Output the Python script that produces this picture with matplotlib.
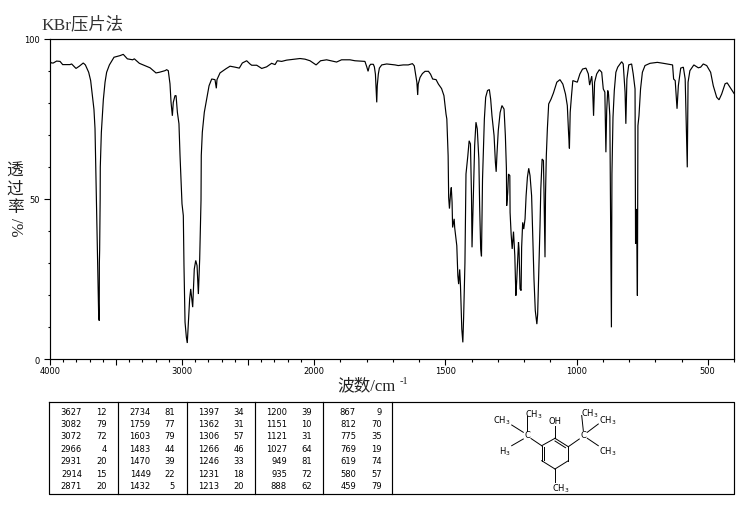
import numpy as np
import matplotlib
matplotlib.use("Agg")
import matplotlib.pyplot as plt
from matplotlib.ticker import FixedLocator, FixedFormatter

wavenumber = [4000,3987,3975,3950,3924,3904,3849,3836,3803,3778,3748,3732,3707,3692,3679,3667,3659,3654,3647,3639,3631,3627,3626,3624,3620,3619,3611,3596,3583,3571,3550,3515,3470,3445,3414,3374,3361,3323,
3242,3197,3172,3129,3116,3104,3091,3083,3073,3066,3053,3045,3035,3023,3015,3005,3000,2990,2985,2977,2967,2960,2952,2942,2934,2927,2919,2912,2907,2896,2886,2876,2866,2856,2854,2846,2831,2813,2795,2775,2750,2740,2735,2712,2667,2636,2598,2566,2543,2510,2485,
2472,2434,2396,2359,2321,2295,2278,2245,2207,2106,2068,2030,1992,1975,1952,1914,1895,1863,1844,1806,1799,1794,1789,1784,1774,1770,1766,1764,1761,1759,1755,1751,1742,1723,1691,1679,1660,1641,1625,1618,1613,1608,1605,1603,1596,1587,1577,1564,1556,1548,1535,1526,1514,1505,1497,
1494,1489,1487,1484,1480,1477,1474,1472,1466,1464,1456,1452,1449,1445,1442,1437,1433,1430,1425,1421,1414,1409,1404,1400,1398,1393,1388,1383,1378,1372,1369,1365,1362,1358,1351,1346,1339,1332,1327,1322,1314,1309,1306,1303,1298,1291,1284,1276,1271,1267,1266,1262,1259,1254,1253,1249,1245,1240,1235,1231,1228,1221,1219,1215,1211,1209,1205,1201,1196,1192,1187,1182,1177,1171,1167,1162,1157,1151,1148,1143,1139,1136,1131,1126,1124,1120,1118,1115,1111,1106,1097,1088,1075,1063,1052,1042,1035,1030,1027,1024,1019,1014,
997,987,977,964,955,950,946,942,939,935,931,923,913,904,898,892,888,885,881,878,873,870,867,865,861,856,850,843,828,822,815,812,808,801,790,784,777,775,771,768,766,762,756,749,739,720,692,669,634,630,624,617,612,603,593,586,581,578,575,568,553,536,527,517,504,489,479,466,457,447,434,426,415,403,400]

transmittance = [92.9,92.5,92.5,93.1,93.0,92.0,92.0,92.2,90.8,91.5,92.5,91.9,89.6,87,82.3,78,72,61.5,48,30.7,12.9,12,30,33.9,50,60,70.8,81,86.5,89.6,91.9,94.3,94.8,95.2,93.8,93.5,93.8,92.4,
91,89.4,89.6,90.1,90.4,90.1,86,80.2,76,80.2,82.3,82.3,77.1,73.5,63.6,53.2,48.5,44.8,29.2,11.5,6.8,5,11,18.8,21.9,19.3,16.2,22.9,28.1,30.8,29.2,20.3,31.3,49.5,63.6,70.9,77.1,81.3,85.4,87.5,87.3,84.6,87.3,89.4,90.7,91.5,91.2,90.9,92.5,93.2,92.2,
91.8,91.8,90.8,91.3,92.4,92,93.2,93,93.4,93.9,93.7,93.2,91.9,93.2,93.5,92.8,93.5,93.5,93.2,93,91.3,89.9,91.6,92.1,92.1,91.3,89,85.4,80.2,85.4,89,90.9,91.9,92.2,91.9,91.7,91.9,91.9,92.3,91.6,89,86.4,82.5,85.9,88,89.2,89.9,89.9,89,87.5,87.3,85.9,84.5,82.3,76.5,
75,63.5,50.5,47,51.6,53.6,49,41.1,43.8,41,35.4,26,23.4,28,22.9,9.4,5.2,13,30,57.8,63.5,68.2,67.2,51,34.9,51,66.7,74,71.9,62.5,47.9,34.4,32.1,56.2,75,81.8,83.9,84.2,81.2,76,69.8,61.5,58.5,64,71.4,77,79.2,78.1,69.8,59.4,47.9,52,57.8,57.3,45.8,39,34.4,39.8,32.3,19.8,24,36.5,34.4,21.9,21.4,34.9,42.7,40.6,43.8,51,56.8,59.6,57.3,51,39.6,25,15.1,10.9,14,29.2,41.7,53.1,62.5,62,53.1,31.8,51.6,63.5,71.9,79.7,81.2,83.1,86.5,87.3,85.9,82.8,79.2,70.3,65.8,77.1,82.3,87,
86.5,89.1,90.6,90.9,89.1,85.6,87,88.4,85.4,76,86.5,89.1,90.4,89.6,84.4,83.4,64.6,77.6,83.9,82.8,76,43.3,9.9,57.8,75.5,83.9,89.6,91.2,92.9,92.2,83.4,73.5,87.5,91.9,92.2,89.1,84.4,36,46.9,19.8,72.9,76,84.4,89.6,91.7,92.4,92.7,92.4,91.9,87.5,87,78.2,85.4,90.9,91.2,87.5,69.3,59.9,86.5,90.1,91.9,91,91.2,92.2,91.7,89.6,85.4,81.8,81,82.8,86,86.3,84.9,83.4,83]

x_major = [4000,3500,3000,2500,2000,1500,1000,500]
x_major_labels = ["4000","","3000","","2000","1500","1000","500"]
x_minor = list(range(400,4000,100))
y_major = [0,50,100]
y_minor = list(range(0,101,10))

peak_wn = [[3627,3082,3072,2966,2931,2914,2871],
           [2734,1759,1603,1483,1470,1449,1432],
           [1397,1362,1306,1266,1246,1231,1213],
           [1200,1151,1121,1027,949,935,888],
           [867,812,775,769,619,580,459]]
peak_t = [[12,79,72,4,20,15,20],
          [81,77,79,44,39,22,5],
          [34,31,57,46,33,18,20],
          [39,10,31,64,81,72,62],
          [9,70,35,19,74,57,79]]

W, H = 737, 510
fig = plt.figure(figsize=(W/100, H/100), dpi=100, facecolor="white")
ax = fig.add_axes([50/W, 1-360/H, 684/W, 320/H])

def fwd(v):
    return np.interp(v, [400,2000,4000], [0,420,684])
def inv(v):
    return np.interp(v, [0,420,684], [400,2000,4000])
ax.set_xscale("function", functions=(fwd, inv))
ax.plot(wavenumber, transmittance, color="black", lw=0.85, solid_joinstyle="miter")
ax.set_xlim(4000, 400)
ax.set_ylim(0, 100)
ax.xaxis.set_major_locator(FixedLocator(x_major))
ax.xaxis.set_major_formatter(FixedFormatter(x_major_labels))
ax.xaxis.set_minor_locator(FixedLocator(x_minor))
ax.yaxis.set_major_locator(FixedLocator(y_major))
ax.yaxis.set_minor_locator(FixedLocator(y_minor))
ax.tick_params(which="major", length=4.5, width=0.8, labelsize=6, pad=0.5)
ax.tick_params(which="minor", length=1.8, width=0.8)
ax.tick_params(axis="y", which="major", pad=3)
for s in ax.spines.values():
    s.set_linewidth(0.85)

ov = fig.add_axes([0, 0, 1, 1], zorder=5)
ov.set_xlim(0, W); ov.set_ylim(H, 0); ov.axis("off"); ov.patch.set_alpha(0)
LAB = ["Liberation Serif", "Noto Sans CJK SC"]
ov.text(41, 25, "KBr压片法", family=LAB, fontsize=12.5, color="#333333", va="center", ha="left")
for cy, ch in zip([172, 190, 208], "透过率"):
    ov.text(15, cy, ch, family=LAB, fontsize=12, color="#222222", va="center", ha="center")
ov.text(15, 227, "/%", family=LAB, fontsize=12, color="#222222", va="center", ha="center", rotation=270)
ov.text(337, 386, "波数/cm", family=LAB, fontsize=12, color="#222222", va="center", ha="left")
ov.text(400, 382, "-1", family=LAB, fontsize=7.5, color="#222222", va="center", ha="left")

# table frame
ov.plot([49.5,734,734,49.5,49.5], [403,403,495,495,403], color="black", lw=0.85)
for vx in [118, 186.7, 255, 323, 392]:
    ov.plot([vx,vx], [403,495], color="black", lw=0.85)
row_y = [412.7,424.8,437,449.2,461.7,474.2,486.7]
col_wn = [82,150.7,219,287,356]
col_t = [106.7,175,244,312,381.7]
for c in range(5):
    for r in range(7):
        ov.text(col_wn[c], row_y[r], str(peak_wn[c][r]), family="DejaVu Sans", fontsize=6, ha="right", va="center")
        ov.text(col_t[c], row_y[r], str(peak_t[c][r]), family="DejaVu Sans", fontsize=6, ha="right", va="center")

# structure
bonds = [((555,439.3),(568.3,447.7)),((568.3,447.7),(568.3,461.7)),((568.3,461.7),(555,470)),
         ((555,470),(541.7,461.7)),((541.7,461.7),(541.7,446.7)),((541.7,446.7),(555,439.3)),
         ((555,442),(565.5,448.7)),((544,461),(544,447.5)),
         ((555,439.3),(555,426.5)),((541.7,446.7),(531,439.5)),((527.3,431.5),(527.3,416.5)),
         ((523.3,433.3),(511.7,426)),((523.3,440),(511.7,446.7)),((568.3,447.7),(579.3,440)),
         ((583.3,431.5),(581.7,416.5)),((587.3,433.3),(598.3,425)),((587.3,439.3),(598.3,446.7)),
         ((555,470),(555,483.3))]
for a, b in bonds:
    ov.plot([a[0],b[0]], [a[1],b[1]], color="black", lw=0.7)
chem = [(527.3,436,"C"),(583.3,436,"C"),(555,421.7,"OH"),(533.5,415,"CH$_3$"),(501.7,420.7,"CH$_3$"),
        (504.5,451.7,"H$_3$"),(590,414,"CH$_3$"),(607.3,420.7,"CH$_3$"),(607.3,451.7,"CH$_3$"),(560.7,488.3,"CH$_3$")]
for x, y, t in chem:
    ov.text(x, y, t, family="DejaVu Sans", fontsize=6, ha="center", va="center", math_fontfamily="dejavusans")

fig.savefig("out.png", dpi=100)
